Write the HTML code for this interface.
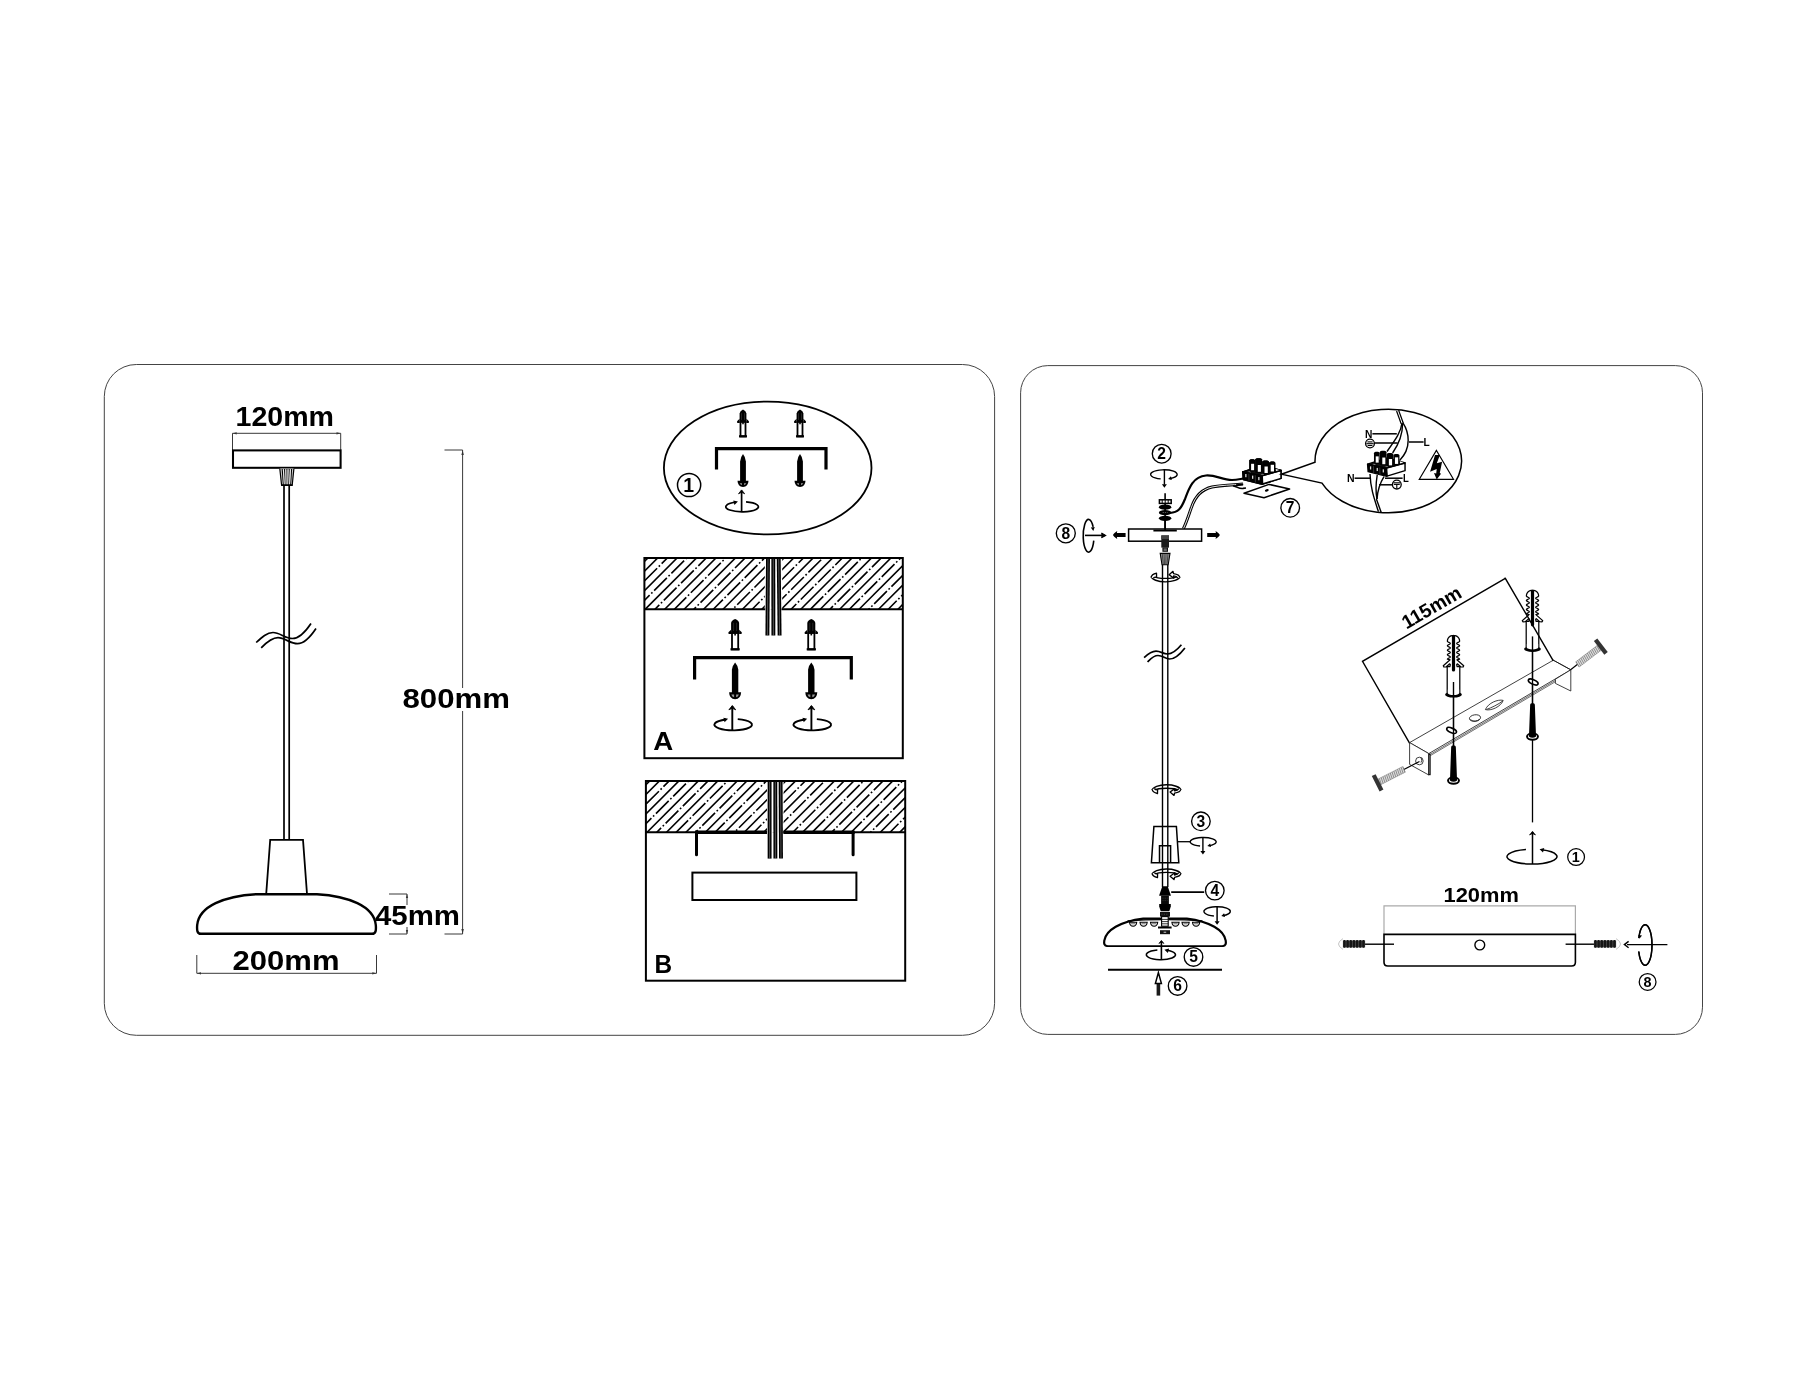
<!DOCTYPE html>
<html><head><meta charset="utf-8"><title>Diagram</title>
<style>
html,body{margin:0;padding:0;background:#fff;}
body{width:1800px;height:1400px;overflow:hidden;}
svg{display:block;filter:grayscale(100%);}
text{font-family:"Liberation Sans",sans-serif;font-weight:bold;fill:#000;}
</style></head><body>
<svg width="1800" height="1400" viewBox="0 0 1800 1400">
<rect width="1800" height="1400" fill="#fff"/>
<rect x="104.3" y="364.5" width="890.3" height="670.8" rx="32" ry="32" fill="none" stroke="#444" stroke-width="1"/>
<rect x="1020.6" y="365.6" width="681.9" height="668.8" rx="27.2" ry="27.2" fill="none" stroke="#444" stroke-width="1"/>
<text x="235.5" y="426.2" font-size="27" text-anchor="start" textLength="98.5" lengthAdjust="spacingAndGlyphs" >120mm</text>
<path d="M232.5,450 V433.3 H340.7 V450" fill="none" stroke="#222" stroke-width="0.9"/>
<polygon points="232.70,433.30 236.70,432.20 236.70,434.40" fill="#333"/>
<polygon points="340.50,433.30 336.50,434.40 336.50,432.20" fill="#333"/>
<rect x="233" y="450.4" width="107.6" height="17.4" fill="#fff" stroke="#000" stroke-width="2.05"/>
<path d="M279.8,468.6 L281.6,485.2 H292.2 L293.9,468.6" fill="#ccc" stroke="#000" stroke-width="1.2"/>
<line x1="282.2" y1="469" x2="283.4" y2="485" stroke="#000" stroke-width="1.1"/>
<line x1="284.6" y1="469" x2="285.2" y2="485" stroke="#000" stroke-width="1.1"/>
<line x1="286.9" y1="469" x2="286.9" y2="485" stroke="#000" stroke-width="1.1"/>
<line x1="289.2" y1="469" x2="288.6" y2="485" stroke="#000" stroke-width="1.1"/>
<line x1="291.6" y1="469" x2="290.6" y2="485" stroke="#000" stroke-width="1.1"/>
<line x1="283.4" y1="469.6" x2="284.3" y2="484.6" stroke="#fff" stroke-width="0.7"/>
<line x1="285.8" y1="469.6" x2="286.1" y2="484.6" stroke="#fff" stroke-width="0.7"/>
<line x1="288.1" y1="469.6" x2="287.8" y2="484.6" stroke="#fff" stroke-width="0.7"/>
<line x1="290.4" y1="469.6" x2="289.6" y2="484.6" stroke="#fff" stroke-width="0.7"/>
<line x1="281.2" y1="485.2" x2="292.6" y2="485.2" stroke="#000" stroke-width="1.6"/>
<line x1="284" y1="485" x2="284" y2="839.5" stroke="#000" stroke-width="1.7"/>
<line x1="289.2" y1="485" x2="289.2" y2="839.5" stroke="#000" stroke-width="1.7"/>
<path d="M256.2,642.5 C262,637 267,632.5 273,632.5 C280,632.5 285,638.5 292.5,638.5 C300,638.5 306,631 311,623.5" fill="none" stroke="#000" stroke-width="1.7"/>
<path d="M261.2,647.8 C267,642 272,637.7 278,637.7 C285,637.7 290,643.7 297.5,643.7 C305,643.7 311,636 316,628.5" fill="none" stroke="#000" stroke-width="1.7"/>
<path d="M270.2,839.8 H303 L307,894 H266.2 Z" fill="#fff" stroke="#000" stroke-width="1.8"/>
<path d="M201,933.8 C197,933.8 196.8,930 197.2,925 C199,906 225,896 256,894.2 H317 C348,896 374,906 375.8,925 C376.2,930 376,933.8 372,933.8 Z" fill="#fff" stroke="#000" stroke-width="2.4"/>
<path d="M444.5,450 H462.6 V688" fill="none" stroke="#222" stroke-width="0.9"/>
<polygon points="462.60,450.00 463.80,455.00 461.40,455.00" fill="#333"/>
<path d="M462.6,711 V934 H444.5" fill="none" stroke="#222" stroke-width="0.9"/>
<polygon points="462.60,934.00 461.40,929.00 463.80,929.00" fill="#333"/>
<text x="402.5" y="708.2" font-size="27" text-anchor="start" textLength="107.5" lengthAdjust="spacingAndGlyphs" >800mm</text>
<path d="M389,894 H407 V905" fill="none" stroke="#222" stroke-width="0.9"/>
<path d="M389,934 H407 V927" fill="none" stroke="#222" stroke-width="0.9"/>
<polygon points="407.00,894.00 408.10,898.00 405.90,898.00" fill="#333"/>
<polygon points="407.00,934.00 405.90,930.00 408.10,930.00" fill="#333"/>
<text x="375" y="925.2" font-size="27" text-anchor="start" textLength="85" lengthAdjust="spacingAndGlyphs" >45mm</text>
<text x="232.5" y="970" font-size="27" text-anchor="start" textLength="107" lengthAdjust="spacingAndGlyphs" >200mm</text>
<path d="M196.8,955 V973.3 H376.5 V955" fill="none" stroke="#222" stroke-width="0.9"/>
<polygon points="197.00,973.30 201.00,972.20 201.00,974.40" fill="#333"/>
<polygon points="376.30,973.30 372.30,974.40 372.30,972.20" fill="#333"/>
<ellipse cx="767.7" cy="468" rx="103.8" ry="66.4" fill="none" stroke="#000" stroke-width="1.8"/>
<path d="M739.6,422.944 V413.40000000000003 Q739.9,411.0 743,409.5 Q746.1,411.0 746.4,413.40000000000003 V422.944 Z" fill="#000"/>
<path d="M739.6,418.744 L737.05,421.144 L737.25,422.944 L739.6,422.944 Z" fill="#000"/>
<path d="M746.4,418.744 L748.95,421.144 L748.75,422.944 L746.4,422.944 Z" fill="#000"/>
<rect x="740.5" y="421.944" width="5.0" height="14.45599999999996" fill="#fff" stroke="#000" stroke-width="1.8"/>
<line x1="739.0" y1="436.29999999999995" x2="747.0" y2="436.29999999999995" stroke="#000" stroke-width="2.2"/>
<line x1="741.5" y1="413.2" x2="741.5" y2="419.944" stroke="#444" stroke-width="0.55"/>
<line x1="744.5" y1="413.2" x2="744.5" y2="419.944" stroke="#444" stroke-width="0.55"/>
<line x1="743" y1="418.944" x2="743" y2="424.344" stroke="#000" stroke-width="1.6"/>
<path d="M796.6,422.944 V413.40000000000003 Q796.9,411.0 800,409.5 Q803.1,411.0 803.4,413.40000000000003 V422.944 Z" fill="#000"/>
<path d="M796.6,418.744 L794.05,421.144 L794.25,422.944 L796.6,422.944 Z" fill="#000"/>
<path d="M803.4,418.744 L805.95,421.144 L805.75,422.944 L803.4,422.944 Z" fill="#000"/>
<rect x="797.5" y="421.944" width="5.0" height="14.45599999999996" fill="#fff" stroke="#000" stroke-width="1.8"/>
<line x1="796.0" y1="436.29999999999995" x2="804.0" y2="436.29999999999995" stroke="#000" stroke-width="2.2"/>
<line x1="798.5" y1="413.2" x2="798.5" y2="419.944" stroke="#444" stroke-width="0.55"/>
<line x1="801.5" y1="413.2" x2="801.5" y2="419.944" stroke="#444" stroke-width="0.55"/>
<line x1="800" y1="418.944" x2="800" y2="424.344" stroke="#000" stroke-width="1.6"/>
<path d="M716.5,469.6 V448.7 H826 V469.6" fill="none" stroke="#000" stroke-width="3.2" stroke-linejoin="miter"/>
<path d="M743,454.09999999999997 Q745.6,457.4 745.9,461.4 V482.1 H740.1 V461.4 Q740.4,457.4 743,454.09999999999997 Z" fill="#000"/>
<path d="M737.5,480.8 H748.5 Q748.3,486.8 743,487.0 Q737.7,486.8 737.5,480.8 Z" fill="#000"/>
<path d="M739.7,483.20000000000005 H742 V485.1 Q740.5,484.8 739.7,483.20000000000005 Z" fill="#999"/>
<path d="M746.3,483.20000000000005 H744 V485.1 Q745.5,484.8 746.3,483.20000000000005 Z" fill="#999"/>
<path d="M800,454.09999999999997 Q802.6,457.4 802.9,461.4 V482.1 H797.1 V461.4 Q797.4,457.4 800,454.09999999999997 Z" fill="#000"/>
<path d="M794.5,480.8 H805.5 Q805.3,486.8 800,487.0 Q794.7,486.8 794.5,480.8 Z" fill="#000"/>
<path d="M796.7,483.20000000000005 H799 V485.1 Q797.5,484.8 796.7,483.20000000000005 Z" fill="#999"/>
<path d="M803.3,483.20000000000005 H801 V485.1 Q802.5,484.8 803.3,483.20000000000005 Z" fill="#999"/>
<circle cx="689.1" cy="485" r="11.6" fill="none" stroke="#000" stroke-width="1.5"/>
<text x="688.6" y="491.981" font-size="19.5" text-anchor="middle">1</text>
<line x1="741.6" y1="511.8" x2="741.6" y2="490.6" stroke="#000" stroke-width="1.7"/>
<polygon points="738.5,493.8 741.6,489.90000000000003 744.7,493.8 741.6,492.3" fill="#000" stroke="#000" stroke-width="0.765" stroke-linejoin="round"/>
<path d="M746.04,501.95 A16.3,5.0 0 1 1 735.73,502.20" fill="none" stroke="#000" stroke-width="1.7"/>
<polygon points="737.93,501.60 734.47,504.91 733.28,500.46" fill="#000"/>
<clipPath id="hA"><rect x="644.4" y="558" width="258.4" height="51.200000000000045"/></clipPath>
<g clip-path="url(#hA)" stroke="#000" stroke-width="1.6" fill="none">
<line x1="576.24" y1="610.2" x2="629.44" y2="557" stroke-dasharray="18 2.3 1.7 2.4" stroke-dashoffset="4.3"/>
<line x1="585.96" y1="610.2" x2="639.16" y2="557"/>
<line x1="595.68" y1="610.2" x2="648.88" y2="557" stroke-dasharray="18 2.3 1.7 2.4" stroke-dashoffset="18.0"/>
<line x1="605.40" y1="610.2" x2="658.60" y2="557"/>
<line x1="615.12" y1="610.2" x2="668.32" y2="557" stroke-dasharray="18 2.3 1.7 2.4" stroke-dashoffset="7.4"/>
<line x1="624.84" y1="610.2" x2="678.04" y2="557"/>
<line x1="634.56" y1="610.2" x2="687.76" y2="557" stroke-dasharray="18 2.3 1.7 2.4" stroke-dashoffset="21.1"/>
<line x1="644.28" y1="610.2" x2="697.48" y2="557"/>
<line x1="654.00" y1="610.2" x2="707.20" y2="557" stroke-dasharray="18 2.3 1.7 2.4" stroke-dashoffset="10.5"/>
<line x1="663.72" y1="610.2" x2="716.92" y2="557"/>
<line x1="673.44" y1="610.2" x2="726.64" y2="557" stroke-dasharray="18 2.3 1.7 2.4" stroke-dashoffset="24.2"/>
<line x1="683.16" y1="610.2" x2="736.36" y2="557"/>
<line x1="692.88" y1="610.2" x2="746.08" y2="557" stroke-dasharray="18 2.3 1.7 2.4" stroke-dashoffset="13.6"/>
<line x1="702.60" y1="610.2" x2="755.80" y2="557"/>
<line x1="712.32" y1="610.2" x2="765.52" y2="557" stroke-dasharray="18 2.3 1.7 2.4" stroke-dashoffset="3.0"/>
<line x1="722.04" y1="610.2" x2="775.24" y2="557"/>
<line x1="731.76" y1="610.2" x2="784.96" y2="557" stroke-dasharray="18 2.3 1.7 2.4" stroke-dashoffset="16.7"/>
<line x1="741.48" y1="610.2" x2="794.68" y2="557"/>
<line x1="751.20" y1="610.2" x2="804.40" y2="557" stroke-dasharray="18 2.3 1.7 2.4" stroke-dashoffset="6.1"/>
<line x1="760.92" y1="610.2" x2="814.12" y2="557"/>
<line x1="770.64" y1="610.2" x2="823.84" y2="557" stroke-dasharray="18 2.3 1.7 2.4" stroke-dashoffset="19.8"/>
<line x1="780.36" y1="610.2" x2="833.56" y2="557"/>
<line x1="790.08" y1="610.2" x2="843.28" y2="557" stroke-dasharray="18 2.3 1.7 2.4" stroke-dashoffset="9.2"/>
<line x1="799.80" y1="610.2" x2="853.00" y2="557"/>
<line x1="809.52" y1="610.2" x2="862.72" y2="557" stroke-dasharray="18 2.3 1.7 2.4" stroke-dashoffset="22.9"/>
<line x1="819.24" y1="610.2" x2="872.44" y2="557"/>
<line x1="828.96" y1="610.2" x2="882.16" y2="557" stroke-dasharray="18 2.3 1.7 2.4" stroke-dashoffset="12.3"/>
<line x1="838.68" y1="610.2" x2="891.88" y2="557"/>
<line x1="848.40" y1="610.2" x2="901.60" y2="557" stroke-dasharray="18 2.3 1.7 2.4" stroke-dashoffset="1.6"/>
<line x1="858.12" y1="610.2" x2="911.32" y2="557"/>
<line x1="867.84" y1="610.2" x2="921.04" y2="557" stroke-dasharray="18 2.3 1.7 2.4" stroke-dashoffset="15.4"/>
<line x1="877.56" y1="610.2" x2="930.76" y2="557"/>
<line x1="887.28" y1="610.2" x2="940.48" y2="557" stroke-dasharray="18 2.3 1.7 2.4" stroke-dashoffset="4.7"/>
<line x1="897.00" y1="610.2" x2="950.20" y2="557"/>
<line x1="906.72" y1="610.2" x2="959.92" y2="557" stroke-dasharray="18 2.3 1.7 2.4" stroke-dashoffset="18.5"/>
</g>
<rect x="764.8" y="558" width="17.400000000000045" height="51.200000000000045" fill="#fff"/>
<line x1="768" y1="558" x2="767.4" y2="635.6" stroke="#000" stroke-width="3.9"/>
<line x1="768" y1="558" x2="767.4" y2="635.6" stroke="#999" stroke-width="0.55"/>
<line x1="773.3" y1="558" x2="773.4" y2="635.6" stroke="#000" stroke-width="3.9"/>
<line x1="773.3" y1="558" x2="773.4" y2="635.6" stroke="#999" stroke-width="0.55"/>
<line x1="778.7" y1="558" x2="779.6" y2="635.6" stroke="#000" stroke-width="3.9"/>
<line x1="778.7" y1="558" x2="779.6" y2="635.6" stroke="#999" stroke-width="0.55"/>
<rect x="644.4" y="558" width="258.4" height="200.2" fill="none" stroke="#000" stroke-width="2"/>
<line x1="644.4" y1="609.2" x2="765.2" y2="609.2" stroke="#000" stroke-width="2"/>
<line x1="781.6" y1="609.2" x2="902.8" y2="609.2" stroke="#000" stroke-width="2"/>
<path d="M731.1,634.04 V623.0 Q731.4,620.6 735.1,619.1 Q738.8000000000001,620.6 739.1,623.0 V634.04 Z" fill="#000"/>
<path d="M731.1,629.8399999999999 L728.4,632.24 L728.6,634.04 L731.1,634.04 Z" fill="#000"/>
<path d="M739.1,629.8399999999999 L741.8000000000001,632.24 L741.6,634.04 L739.1,634.04 Z" fill="#000"/>
<rect x="732.0" y="633.04" width="6.2" height="16.360000000000014" fill="#fff" stroke="#000" stroke-width="1.8"/>
<line x1="730.5" y1="649.3" x2="739.7" y2="649.3" stroke="#000" stroke-width="2.2"/>
<line x1="733.6" y1="622.8" x2="733.6" y2="631.04" stroke="#444" stroke-width="0.55"/>
<line x1="736.6" y1="622.8" x2="736.6" y2="631.04" stroke="#444" stroke-width="0.55"/>
<line x1="735.1" y1="630.04" x2="735.1" y2="635.4399999999999" stroke="#000" stroke-width="1.6"/>
<path d="M807.3,634.04 V623.0 Q807.5999999999999,620.6 811.3,619.1 Q815.0,620.6 815.3,623.0 V634.04 Z" fill="#000"/>
<path d="M807.3,629.8399999999999 L804.5999999999999,632.24 L804.8,634.04 L807.3,634.04 Z" fill="#000"/>
<path d="M815.3,629.8399999999999 L818.0,632.24 L817.8,634.04 L815.3,634.04 Z" fill="#000"/>
<rect x="808.1999999999999" y="633.04" width="6.2" height="16.360000000000014" fill="#fff" stroke="#000" stroke-width="1.8"/>
<line x1="806.6999999999999" y1="649.3" x2="815.9" y2="649.3" stroke="#000" stroke-width="2.2"/>
<line x1="809.8" y1="622.8" x2="809.8" y2="631.04" stroke="#444" stroke-width="0.55"/>
<line x1="812.8" y1="622.8" x2="812.8" y2="631.04" stroke="#444" stroke-width="0.55"/>
<line x1="811.3" y1="630.04" x2="811.3" y2="635.4399999999999" stroke="#000" stroke-width="1.6"/>
<path d="M694.6,679.6 V657.6 H851.3 V679.6" fill="none" stroke="#000" stroke-width="3.2" stroke-linejoin="miter"/>
<path d="M735.1,662.5 Q738.0000000000001,665.8 738.3000000000001,669.8 V693.5 H731.9 V669.8 Q732.1999999999999,665.8 735.1,662.5 Z" fill="#000"/>
<path d="M729.1,692.2 H741.1 Q740.9,699.0 735.1,699.1999999999999 Q729.3000000000001,699.0 729.1,692.2 Z" fill="#000"/>
<path d="M731.3000000000001,694.6 H734.1 V697.3 Q732.1,697.0 731.3000000000001,694.6 Z" fill="#999"/>
<path d="M738.9,694.6 H736.1 V697.3 Q738.1,697.0 738.9,694.6 Z" fill="#999"/>
<path d="M811.3,662.5 Q814.2,665.8 814.5,669.8 V693.5 H808.0999999999999 V669.8 Q808.3999999999999,665.8 811.3,662.5 Z" fill="#000"/>
<path d="M805.3,692.2 H817.3 Q817.0999999999999,699.0 811.3,699.1999999999999 Q805.5,699.0 805.3,692.2 Z" fill="#000"/>
<path d="M807.5,694.6 H810.3 V697.3 Q808.3,697.0 807.5,694.6 Z" fill="#999"/>
<path d="M815.0999999999999,694.6 H812.3 V697.3 Q814.3,697.0 815.0999999999999,694.6 Z" fill="#999"/>
<line x1="732.3" y1="730.4000000000001" x2="732.3" y2="706.2" stroke="#000" stroke-width="1.9"/>
<polygon points="728.9,709.8000000000001 732.3,705.5 735.6999999999999,709.8000000000001 732.3,708.3000000000001" fill="#000" stroke="#000" stroke-width="0.855" stroke-linejoin="round"/>
<path d="M737.75,719.17 A18.8,5.7 0 1 1 725.85,719.45" fill="none" stroke="#000" stroke-width="1.9"/>
<polygon points="728.05,718.85 724.59,722.16 723.40,717.72" fill="#000"/>
<line x1="811.4" y1="730.4000000000001" x2="811.4" y2="706.2" stroke="#000" stroke-width="1.9"/>
<polygon points="808.0,709.8000000000001 811.4,705.5 814.8,709.8000000000001 811.4,708.3000000000001" fill="#000" stroke="#000" stroke-width="0.855" stroke-linejoin="round"/>
<path d="M816.85,719.17 A18.8,5.7 0 1 1 804.95,719.45" fill="none" stroke="#000" stroke-width="1.9"/>
<polygon points="807.15,718.85 803.69,722.16 802.50,717.72" fill="#000"/>
<text x="653.2" y="749.6" font-size="26" text-anchor="start" textLength="20" lengthAdjust="spacingAndGlyphs" >A</text>
<clipPath id="hB"><rect x="645.9" y="781" width="259.30000000000007" height="51.200000000000045"/></clipPath>
<g clip-path="url(#hB)" stroke="#000" stroke-width="1.6" fill="none">
<line x1="578.04" y1="833.2" x2="631.24" y2="780" stroke-dasharray="18 2.3 1.7 2.4" stroke-dashoffset="4.3"/>
<line x1="587.76" y1="833.2" x2="640.96" y2="780"/>
<line x1="597.48" y1="833.2" x2="650.68" y2="780" stroke-dasharray="18 2.3 1.7 2.4" stroke-dashoffset="18.0"/>
<line x1="607.20" y1="833.2" x2="660.40" y2="780"/>
<line x1="616.92" y1="833.2" x2="670.12" y2="780" stroke-dasharray="18 2.3 1.7 2.4" stroke-dashoffset="7.4"/>
<line x1="626.64" y1="833.2" x2="679.84" y2="780"/>
<line x1="636.36" y1="833.2" x2="689.56" y2="780" stroke-dasharray="18 2.3 1.7 2.4" stroke-dashoffset="21.1"/>
<line x1="646.08" y1="833.2" x2="699.28" y2="780"/>
<line x1="655.80" y1="833.2" x2="709.00" y2="780" stroke-dasharray="18 2.3 1.7 2.4" stroke-dashoffset="10.5"/>
<line x1="665.52" y1="833.2" x2="718.72" y2="780"/>
<line x1="675.24" y1="833.2" x2="728.44" y2="780" stroke-dasharray="18 2.3 1.7 2.4" stroke-dashoffset="24.2"/>
<line x1="684.96" y1="833.2" x2="738.16" y2="780"/>
<line x1="694.68" y1="833.2" x2="747.88" y2="780" stroke-dasharray="18 2.3 1.7 2.4" stroke-dashoffset="13.6"/>
<line x1="704.40" y1="833.2" x2="757.60" y2="780"/>
<line x1="714.12" y1="833.2" x2="767.32" y2="780" stroke-dasharray="18 2.3 1.7 2.4" stroke-dashoffset="3.0"/>
<line x1="723.84" y1="833.2" x2="777.04" y2="780"/>
<line x1="733.56" y1="833.2" x2="786.76" y2="780" stroke-dasharray="18 2.3 1.7 2.4" stroke-dashoffset="16.7"/>
<line x1="743.28" y1="833.2" x2="796.48" y2="780"/>
<line x1="753.00" y1="833.2" x2="806.20" y2="780" stroke-dasharray="18 2.3 1.7 2.4" stroke-dashoffset="6.1"/>
<line x1="762.72" y1="833.2" x2="815.92" y2="780"/>
<line x1="772.44" y1="833.2" x2="825.64" y2="780" stroke-dasharray="18 2.3 1.7 2.4" stroke-dashoffset="19.8"/>
<line x1="782.16" y1="833.2" x2="835.36" y2="780"/>
<line x1="791.88" y1="833.2" x2="845.08" y2="780" stroke-dasharray="18 2.3 1.7 2.4" stroke-dashoffset="9.2"/>
<line x1="801.60" y1="833.2" x2="854.80" y2="780"/>
<line x1="811.32" y1="833.2" x2="864.52" y2="780" stroke-dasharray="18 2.3 1.7 2.4" stroke-dashoffset="22.9"/>
<line x1="821.04" y1="833.2" x2="874.24" y2="780"/>
<line x1="830.76" y1="833.2" x2="883.96" y2="780" stroke-dasharray="18 2.3 1.7 2.4" stroke-dashoffset="12.3"/>
<line x1="840.48" y1="833.2" x2="893.68" y2="780"/>
<line x1="850.20" y1="833.2" x2="903.40" y2="780" stroke-dasharray="18 2.3 1.7 2.4" stroke-dashoffset="1.6"/>
<line x1="859.92" y1="833.2" x2="913.12" y2="780"/>
<line x1="869.64" y1="833.2" x2="922.84" y2="780" stroke-dasharray="18 2.3 1.7 2.4" stroke-dashoffset="15.4"/>
<line x1="879.36" y1="833.2" x2="932.56" y2="780"/>
<line x1="889.08" y1="833.2" x2="942.28" y2="780" stroke-dasharray="18 2.3 1.7 2.4" stroke-dashoffset="4.7"/>
<line x1="898.80" y1="833.2" x2="952.00" y2="780"/>
<line x1="908.52" y1="833.2" x2="961.72" y2="780" stroke-dasharray="18 2.3 1.7 2.4" stroke-dashoffset="18.5"/>
</g>
<rect x="767.0" y="781" width="16.599999999999977" height="51.200000000000045" fill="#fff"/>
<line x1="769.6" y1="781" x2="769.6" y2="858.6" stroke="#000" stroke-width="3.9"/>
<line x1="769.6" y1="781" x2="769.6" y2="858.6" stroke="#999" stroke-width="0.55"/>
<line x1="775.3" y1="781" x2="775.4" y2="858.6" stroke="#000" stroke-width="3.9"/>
<line x1="775.3" y1="781" x2="775.4" y2="858.6" stroke="#999" stroke-width="0.55"/>
<line x1="780.6" y1="781" x2="781" y2="858.6" stroke="#000" stroke-width="3.9"/>
<line x1="780.6" y1="781" x2="781" y2="858.6" stroke="#999" stroke-width="0.55"/>
<rect x="645.9" y="781" width="259.3" height="199.7" fill="none" stroke="#000" stroke-width="2"/>
<line x1="645.9" y1="832.2" x2="767" y2="832.2" stroke="#000" stroke-width="2"/>
<line x1="783.4" y1="832.2" x2="905.2" y2="832.2" stroke="#000" stroke-width="2"/>
<line x1="695" y1="832.2" x2="767" y2="832.2" stroke="#000" stroke-width="3.4"/>
<line x1="783.4" y1="832.2" x2="854.6" y2="832.2" stroke="#000" stroke-width="3.4"/>
<line x1="696.5" y1="832" x2="696.5" y2="854.8" stroke="#000" stroke-width="3" stroke-linecap="round"/>
<line x1="853.1" y1="832" x2="853.1" y2="854.8" stroke="#000" stroke-width="3" stroke-linecap="round"/>
<rect x="692.4" y="872.6" width="164" height="27.4" fill="#fff" stroke="#000" stroke-width="2"/>
<text x="654.6" y="972.7" font-size="26" text-anchor="start" textLength="17.6" lengthAdjust="spacingAndGlyphs" >B</text>
<circle cx="1161.7" cy="453.7" r="9.4" fill="none" stroke="#000" stroke-width="1.35"/>
<text x="1161.7" y="459.28479999999996" font-size="15.6" text-anchor="middle">2</text>
<line x1="1164.4" y1="469.79999999999995" x2="1164.4" y2="484.7" stroke="#000" stroke-width="1.4"/>
<polygon points="1164.40,487.80 1161.90,484.20 1166.90,484.20" fill="#000"/>
<path d="M1160.68,478.86 A13.3,4.6 0 1 1 1170.14,478.46" fill="none" stroke="#000" stroke-width="1.4"/>
<polygon points="1168.14,478.96 1170.94,476.25 1171.92,479.92" fill="#000"/>
<line x1="1165.1" y1="493.2" x2="1165.1" y2="529" stroke="#000" stroke-width="1.6"/>
<rect x="1159.4" y="499.8" width="11.8" height="3.6" fill="#fff" stroke="#000" stroke-width="1.5"/>
<line x1="1162.2" y1="499.8" x2="1162.2" y2="503.4" stroke="#000" stroke-width="1"/>
<line x1="1165.2" y1="499.8" x2="1165.2" y2="503.4" stroke="#000" stroke-width="1"/>
<line x1="1168.2" y1="499.8" x2="1168.2" y2="503.4" stroke="#000" stroke-width="1"/>
<ellipse cx="1165.1" cy="507.2" rx="6.2" ry="2.65" fill="#000"/>
<ellipse cx="1165.1" cy="512.7" rx="6.2" ry="2.65" fill="#000"/>
<ellipse cx="1165.1" cy="518.3" rx="6.2" ry="2.65" fill="#000"/>
<line x1="1162.6" y1="512.5" x2="1167.6" y2="512.5" stroke="#aaa" stroke-width="0.5" stroke-dasharray="1.4 0.8"/>
<path d="M1170,513 C1178,512.5 1181,509 1185,499 C1189,488 1193,476.5 1206,475.5 C1216,474.8 1222,480 1232,480 C1237,480 1240,479 1243,478.5" fill="none" stroke="#000" stroke-width="2.2" stroke-linecap="round"/>
<path d="M1183.4,528.7 C1187,521 1189,514 1191.6,507 C1195,497 1201,489.5 1212,487 C1221,485 1231,485.2 1243,484" fill="none" stroke="#000" stroke-width="3"/>
<path d="M1183.4,528.7 C1187,521 1189,514 1191.6,507 C1195,497 1201,489.5 1212,487 C1221,485 1231,485.2 1243,484" fill="none" stroke="#fff" stroke-width="0.9"/>
<path d="M1233,485.8 L1238,487.6 Q1240,488.6 1243,488.4 L1246,488" fill="none" stroke="#000" stroke-width="1.6"/>
<path d="M1236,485 L1243.2,484.2" fill="none" stroke="#000" stroke-width="1.6"/>
<rect x="1128.6" y="529" width="73" height="12.2" fill="#fff" stroke="#000" stroke-width="1.5"/>
<line x1="1153.4" y1="530.6" x2="1176.8" y2="530.6" stroke="#000" stroke-width="1.8"/>
<line x1="1165.1" y1="519" x2="1165.1" y2="530" stroke="#000" stroke-width="1.6"/>
<rect x="1161.3" y="535.4" width="7.7" height="12.2" fill="#1c1c1c"/>
<rect x="1162.4" y="547.4" width="5.6" height="4.4" fill="#111"/>
<rect x="1161.3" y="535.4" width="7.7" height="3.6" fill="#444"/>
<rect x="1163.6" y="548.4" width="3.2" height="2.6" fill="#666"/>
<path d="M1160.2,553.4 H1170 L1168.2,564.8 H1162 Z" fill="#999" stroke="#000" stroke-width="1.1"/>
<line x1="1162.2" y1="553.4" x2="1163.3" y2="564.8" stroke="#222" stroke-width="0.7"/>
<line x1="1164" y1="553.4" x2="1164.5" y2="564.8" stroke="#222" stroke-width="0.7"/>
<line x1="1166" y1="553.4" x2="1165.8" y2="564.8" stroke="#222" stroke-width="0.7"/>
<line x1="1168" y1="553.4" x2="1167" y2="564.8" stroke="#222" stroke-width="0.7"/>
<line x1="1162.5" y1="564.8" x2="1162.5" y2="887" stroke="#000" stroke-width="1.4"/>
<line x1="1167.8" y1="564.8" x2="1167.8" y2="887" stroke="#000" stroke-width="1.4"/>
<path d="M1151.18,576.49 A14.4,5.8 0 0 0 1179.86,576.70" fill="none" stroke="#000" stroke-width="1.45"/>
<path d="M1153.68,576.27 A12.3,3.0 0 0 0 1177.32,576.27" fill="none" stroke="#000" stroke-width="1.3"/>
<path d="M1151.20,577.50 C1151.40,575.10 1153.50,573.90 1156.50,573.20 L1156.60,576.80 C1155.10,576.90 1153.90,577.40 1153.30,578.20" fill="#fff" stroke="#000" stroke-width="1.3" stroke-linejoin="round"/>
<path d="M1179.80,577.50 C1179.60,575.30 1176.90,574.10 1173.50,573.60 L1173.00,571.30 L1169.10,574.70 L1173.80,578.10 L1173.60,575.90 C1175.50,576.00 1177.10,576.80 1177.80,578.10" fill="#fff" stroke="#000" stroke-width="1.3" stroke-linejoin="round"/>
<path d="M1144.1,657.7 C1148,654 1151.5,651.2 1156,651.2 C1161,651.2 1163,654 1167.5,654 C1173,654 1177.5,649.5 1181.4,644.8" fill="none" stroke="#000" stroke-width="1.7"/>
<path d="M1147.6,662 C1151,658.5 1153.5,655.5 1158,655.5 C1163,655.5 1165,659 1169.5,659 C1176,659 1181,653 1184.9,647.9" fill="none" stroke="#000" stroke-width="1.7"/>
<path d="M1113,535 Q1113.4,533.6 1117.2,531.1 L1116.9,533.1 H1125.6 V536.9 H1116.9 L1117.2,538.9 Q1113.4,536.4 1113,535 Z" fill="#000"/>
<path d="M1219.8,535 Q1219.4,533.6 1215.6,531.1 L1215.9,533.1 H1207.2 V536.9 H1215.9 L1215.6,538.9 Q1219.4,536.4 1219.8,535 Z" fill="#000"/>
<circle cx="1065.8" cy="533.3" r="9.5" fill="none" stroke="#000" stroke-width="1.35"/>
<text x="1065.8" y="538.8847999999999" font-size="15.6" text-anchor="middle">8</text>
<path d="M1093.76,540.59 A5.4,16.4 0 1 1 1093.13,526.87" fill="none" stroke="#000" stroke-width="1.6"/>
<polygon points="1093.30,531.00 1090.79,527.52 1094.75,526.96" fill="#000"/>
<line x1="1085" y1="535.4" x2="1104.6" y2="535.4" stroke="#000" stroke-width="1.6"/>
<polyline points="1101.4,533 1105.6,535.4 1101.4,537.8" fill="#000" stroke="#000" stroke-width="1.2" stroke-linejoin="miter"/>
<polygon points="1262.20,475.70 1281.00,470.50 1281.00,478.40 1262.60,484.00" fill="#fff" stroke="#000" stroke-width="1.5" stroke-linejoin="round"/>
<polygon points="1242.80,471.80 1262.80,465.40 1281.20,470.40 1261.40,475.80" fill="#111" stroke="#000" stroke-width="1.4" stroke-linejoin="round"/>
<polygon points="1275.60,468.90 1279.40,470.10 1276.00,471.10" fill="#fff"/>
<polygon points="1247.40,472.00 1249.80,471.20 1251.20,472.70" fill="#999"/>
<polygon points="1260.20,474.60 1263.20,473.60 1264.00,474.70" fill="#999"/>
<polygon points="1242.80,471.80 1261.40,475.80 1262.40,484.20 1243.40,479.40" fill="#000" stroke="#000" stroke-width="1.5" stroke-linejoin="round"/>
<rect x="1245.20" y="474.00" width="1.30" height="3.20" fill="#ddd"/>
<rect x="1252.00" y="475.60" width="1.30" height="3.20" fill="#ddd"/>
<rect x="1258.20" y="477.00" width="1.30" height="3.20" fill="#ddd"/>
<line x1="1248.80" y1="473.80" x2="1249.00" y2="480.80" stroke="#555" stroke-width="0.6"/>
<line x1="1255.20" y1="475.20" x2="1255.40" y2="482.40" stroke="#555" stroke-width="0.6"/>
<path d="M1249.30,460.60 C1249.50,458.70 1254.90,458.70 1255.10,460.60 V471.00 Q1252.20,472.60 1249.30,471.00 Z" fill="#000"/>
<rect x="1251.10" y="463.80" width="3.00" height="6.40" fill="#fff"/>
<path d="M1255.20,459.60 C1255.40,457.70 1261.90,457.70 1262.10,459.60 V472.40 Q1258.65,474.00 1255.20,472.40 Z" fill="#000"/>
<rect x="1257.80" y="465.00" width="3.10" height="6.80" fill="#fff"/>
<path d="M1262.20,461.80 C1262.40,459.90 1268.80,459.90 1269.00,461.80 V473.60 Q1265.60,475.20 1262.20,473.60 Z" fill="#000"/>
<rect x="1264.50" y="466.50" width="3.30" height="6.50" fill="#fff"/>
<path d="M1269.10,462.90 C1269.30,461.00 1275.10,461.00 1275.30,462.90 V472.40 Q1272.20,474.00 1269.10,472.40 Z" fill="#000"/>
<rect x="1270.70" y="464.80" width="3.30" height="6.70" fill="#fff"/>
<polygon points="1244,493.2 1264,497.7 1289.6,489 1269,484.4" fill="#fff" stroke="#000" stroke-width="1.5" stroke-linejoin="round"/>
<ellipse cx="1266.8" cy="490.4" rx="2" ry="1.2" fill="#000" transform="rotate(-18 1266.8 490.4)"/>
<circle cx="1290.2" cy="507.8" r="9.3" fill="none" stroke="#000" stroke-width="1.35"/>
<text x="1290.2" y="513.3848" font-size="15.6" text-anchor="middle">7</text>
<polygon points="1262.20,475.70 1281.00,470.50 1281.00,478.40 1262.60,484.00" fill="#fff" stroke="#000" stroke-width="1.5" stroke-linejoin="round"/>
<polygon points="1242.80,471.80 1262.80,465.40 1281.20,470.40 1261.40,475.80" fill="#111" stroke="#000" stroke-width="1.4" stroke-linejoin="round"/>
<polygon points="1275.60,468.90 1279.40,470.10 1276.00,471.10" fill="#fff"/>
<polygon points="1247.40,472.00 1249.80,471.20 1251.20,472.70" fill="#999"/>
<polygon points="1260.20,474.60 1263.20,473.60 1264.00,474.70" fill="#999"/>
<polygon points="1242.80,471.80 1261.40,475.80 1262.40,484.20 1243.40,479.40" fill="#000" stroke="#000" stroke-width="1.5" stroke-linejoin="round"/>
<rect x="1245.20" y="474.00" width="1.30" height="3.20" fill="#ddd"/>
<rect x="1252.00" y="475.60" width="1.30" height="3.20" fill="#ddd"/>
<rect x="1258.20" y="477.00" width="1.30" height="3.20" fill="#ddd"/>
<line x1="1248.80" y1="473.80" x2="1249.00" y2="480.80" stroke="#555" stroke-width="0.6"/>
<line x1="1255.20" y1="475.20" x2="1255.40" y2="482.40" stroke="#555" stroke-width="0.6"/>
<path d="M1249.30,460.60 C1249.50,458.70 1254.90,458.70 1255.10,460.60 V471.00 Q1252.20,472.60 1249.30,471.00 Z" fill="#000"/>
<rect x="1251.10" y="463.80" width="3.00" height="6.40" fill="#fff"/>
<path d="M1255.20,459.60 C1255.40,457.70 1261.90,457.70 1262.10,459.60 V472.40 Q1258.65,474.00 1255.20,472.40 Z" fill="#000"/>
<rect x="1257.80" y="465.00" width="3.10" height="6.80" fill="#fff"/>
<path d="M1262.20,461.80 C1262.40,459.90 1268.80,459.90 1269.00,461.80 V473.60 Q1265.60,475.20 1262.20,473.60 Z" fill="#000"/>
<rect x="1264.50" y="466.50" width="3.30" height="6.50" fill="#fff"/>
<path d="M1269.10,462.90 C1269.30,461.00 1275.10,461.00 1275.30,462.90 V472.40 Q1272.20,474.00 1269.10,472.40 Z" fill="#000"/>
<rect x="1270.70" y="464.80" width="3.30" height="6.70" fill="#fff"/>
<path d="M1281.3,474.2 L1315.02,462.30 " fill="none"/>
<path d="M1281.3,474.2 L1315.02,462.30 A73.3,51.8 0 1 1 1321.99,483.07 Z" fill="#fff" stroke="#000" stroke-width="1.5" stroke-linejoin="miter"/>
<path d="M1397.6,410.6 L1402.2,423.4" fill="none" stroke="#000" stroke-width="3.4"/>
<path d="M1397.6,410.6 L1402.2,423.4" fill="none" stroke="#fff" stroke-width="1"/>
<path d="M1402,423 C1401,432 1396,439 1387,451.5" fill="none" stroke="#000" stroke-width="1.4"/>
<path d="M1402.6,423.6 C1402.6,434 1399,444 1392.6,453" fill="none" stroke="#000" stroke-width="1.4"/>
<path d="M1402.8,422.6 C1409,432 1412,448 1399.6,460.4" fill="none" stroke="#000" stroke-width="1.4"/>
<text x="1365" y="437.6" font-size="11.2" text-anchor="start" textLength="7.4" lengthAdjust="spacingAndGlyphs" >N</text>
<line x1="1372.4" y1="433.8" x2="1396.8" y2="433.8" stroke="#000" stroke-width="1.5"/>
<line x1="1374.4" y1="443" x2="1397.6" y2="443" stroke="#000" stroke-width="1.5"/>
<circle cx="1370" cy="443.5" r="4.4" fill="#fff" stroke="#000" stroke-width="1.3"/>
<line x1="1367.4" y1="441.9" x2="1372.6" y2="441.9" stroke="#000" stroke-width="1.1"/>
<line x1="1366.4" y1="443.7" x2="1373.6" y2="443.7" stroke="#000" stroke-width="1.1"/>
<line x1="1367.6" y1="445.5" x2="1372.4" y2="445.5" stroke="#000" stroke-width="1.1"/>
<line x1="1409" y1="442" x2="1423.6" y2="442" stroke="#000" stroke-width="1.5"/>
<text x="1423.6" y="445.8" font-size="11.2" text-anchor="start" textLength="6.2" lengthAdjust="spacingAndGlyphs" >L</text>
<path d="M1370,474 C1370.5,488 1374,498 1378.4,511.6" fill="none" stroke="#000" stroke-width="1.4"/>
<path d="M1377.2,475 C1375.6,485 1375.6,492 1377,499" fill="none" stroke="#000" stroke-width="1.4"/>
<path d="M1384,476.6 C1380,483 1377.6,490 1377,499" fill="none" stroke="#000" stroke-width="1.4"/>
<path d="M1376.4,499 L1381.2,512.4" fill="none" stroke="#000" stroke-width="1.4"/>
<line x1="1354.6" y1="478.2" x2="1370" y2="478.2" stroke="#000" stroke-width="1.5"/>
<text x="1347" y="482" font-size="11.2" text-anchor="start" textLength="7.6" lengthAdjust="spacingAndGlyphs" >N</text>
<line x1="1385" y1="478.2" x2="1402.6" y2="478.2" stroke="#000" stroke-width="1.5"/>
<text x="1403" y="482" font-size="11.2" text-anchor="start" textLength="5.8" lengthAdjust="spacingAndGlyphs" >L</text>
<line x1="1379" y1="484.8" x2="1392.6" y2="484.8" stroke="#000" stroke-width="1.5"/>
<circle cx="1396.8" cy="484.6" r="4.4" fill="#fff" stroke="#000" stroke-width="1.3"/>
<line x1="1393.2" y1="482.8" x2="1400.3999999999999" y2="482.8" stroke="#000" stroke-width="1.1"/>
<line x1="1393.8" y1="484.40000000000003" x2="1399.8" y2="484.40000000000003" stroke="#000" stroke-width="1.1"/>
<line x1="1396.8" y1="484.40000000000003" x2="1396.8" y2="488.6" stroke="#000" stroke-width="1.1"/>
<polygon points="1386.61,468.02 1405.04,462.93 1405.04,470.67 1387.00,476.16" fill="#fff" stroke="#000" stroke-width="1.47" stroke-linejoin="round"/>
<polygon points="1367.60,464.20 1387.20,457.93 1405.23,462.83 1385.83,468.12" fill="#111" stroke="#000" stroke-width="1.3719999999999999" stroke-linejoin="round"/>
<polygon points="1399.74,461.36 1403.47,462.53 1400.14,463.51" fill="#fff"/>
<polygon points="1372.11,464.40 1374.46,463.61 1375.83,465.08" fill="#999"/>
<polygon points="1384.65,466.94 1387.59,465.96 1388.38,467.04" fill="#999"/>
<polygon points="1367.60,464.20 1385.83,468.12 1386.81,476.35 1368.19,471.65" fill="#000" stroke="#000" stroke-width="1.47" stroke-linejoin="round"/>
<rect x="1369.95" y="466.36" width="1.27" height="3.14" fill="#ddd"/>
<rect x="1376.62" y="467.92" width="1.27" height="3.14" fill="#ddd"/>
<rect x="1382.69" y="469.30" width="1.27" height="3.14" fill="#ddd"/>
<line x1="1373.48" y1="466.16" x2="1373.68" y2="473.02" stroke="#555" stroke-width="0.588"/>
<line x1="1379.75" y1="467.53" x2="1379.95" y2="474.59" stroke="#555" stroke-width="0.588"/>
<path d="M1373.97,453.22 C1374.17,451.36 1379.46,451.36 1379.65,453.22 V463.42 Q1376.81,464.98 1373.97,463.42 Z" fill="#000"/>
<rect x="1375.73" y="456.36" width="2.94" height="6.27" fill="#fff"/>
<path d="M1379.75,452.24 C1379.95,450.38 1386.32,450.38 1386.51,452.24 V464.79 Q1383.13,466.36 1379.75,464.79 Z" fill="#000"/>
<rect x="1382.30" y="457.54" width="3.04" height="6.66" fill="#fff"/>
<path d="M1386.61,454.40 C1386.81,452.54 1393.08,452.54 1393.28,454.40 V465.96 Q1389.94,467.53 1386.61,465.96 Z" fill="#000"/>
<rect x="1388.87" y="459.01" width="3.23" height="6.37" fill="#fff"/>
<path d="M1393.37,455.48 C1393.57,453.62 1399.25,453.62 1399.45,455.48 V464.79 Q1396.41,466.36 1393.37,464.79 Z" fill="#000"/>
<rect x="1394.94" y="457.34" width="3.23" height="6.57" fill="#fff"/>
<polygon points="1436.4,450.4 1419.2,479.4 1453.6,479.4" fill="#fff" stroke="#000" stroke-width="1.1"/>
<polygon points="1435,455 1439.9,455 1436.8,463.2 1442.1,461.8 1439.8,473 1441,473.8 1436.7,479.4 1434,473 1436.2,473.6 1436.7,469 1430.1,471.8" fill="#000"/>
<path d="M1152.18,790.21 A14.4,5.8 0 0 1 1180.86,790.00" fill="none" stroke="#000" stroke-width="1.45"/>
<path d="M1154.68,790.43 A12.3,3.0 0 0 1 1178.32,790.43" fill="none" stroke="#000" stroke-width="1.3"/>
<path d="M1152.20,789.20 C1152.40,791.60 1154.50,792.80 1157.50,793.50 L1157.60,789.90 C1156.10,789.80 1154.90,789.30 1154.30,788.50" fill="#fff" stroke="#000" stroke-width="1.3" stroke-linejoin="round"/>
<path d="M1180.80,789.20 C1180.60,791.40 1177.90,792.60 1174.50,793.10 L1174.00,795.40 L1170.10,792.00 L1174.80,788.60 L1174.60,790.80 C1176.50,790.70 1178.10,789.90 1178.80,788.60" fill="#fff" stroke="#000" stroke-width="1.3" stroke-linejoin="round"/>
<circle cx="1200.9" cy="821.3" r="9.3" fill="none" stroke="#000" stroke-width="1.35"/>
<text x="1200.9" y="826.8847999999999" font-size="15.6" text-anchor="middle">3</text>
<path d="M1153.9,826.5 H1176.4 L1178.8,862.7 H1151.4 Z" fill="none" stroke="#000" stroke-width="1.5"/>
<path d="M1159.5,862.7 V845.8 H1170.6 V862.7" fill="none" stroke="#000" stroke-width="1.5"/>
<line x1="1177.8" y1="841.7" x2="1190" y2="841.7" stroke="#000" stroke-width="1.3"/>
<line x1="1202.9" y1="837.5" x2="1202.9" y2="851.5" stroke="#000" stroke-width="1.4"/>
<polygon points="1202.90,854.60 1200.40,851.00 1205.40,851.00" fill="#000"/>
<path d="M1200.06,845.97 A13,4.3 0 1 1 1209.30,845.60" fill="none" stroke="#000" stroke-width="1.4"/>
<polygon points="1207.30,846.10 1210.10,843.38 1211.08,847.05" fill="#000"/>
<path d="M1152.18,874.41 A14.4,5.8 0 0 1 1180.86,874.20" fill="none" stroke="#000" stroke-width="1.45"/>
<path d="M1154.68,874.63 A12.3,3.0 0 0 1 1178.32,874.63" fill="none" stroke="#000" stroke-width="1.3"/>
<path d="M1152.20,873.40 C1152.40,875.80 1154.50,877.00 1157.50,877.70 L1157.60,874.10 C1156.10,874.00 1154.90,873.50 1154.30,872.70" fill="#fff" stroke="#000" stroke-width="1.3" stroke-linejoin="round"/>
<path d="M1180.80,873.40 C1180.60,875.60 1177.90,876.80 1174.50,877.30 L1174.00,879.60 L1170.10,876.20 L1174.80,872.80 L1174.60,875.00 C1176.50,874.90 1178.10,874.10 1178.80,872.80" fill="#fff" stroke="#000" stroke-width="1.3" stroke-linejoin="round"/>
<path d="M1162.3,886.2 H1167.7 L1170.2,893.4 L1170.9,895.8 H1159.1 L1159.8,893.4 Z" fill="#000"/>
<rect x="1161.1" y="895.6" width="7.8" height="8.6" fill="#0a0a0a"/>
<line x1="1162.4" y1="898.2" x2="1167.6" y2="898.2" stroke="#555" stroke-width="0.5" stroke-dasharray="1.2 1"/>
<line x1="1162.4" y1="900.6" x2="1167.6" y2="900.6" stroke="#555" stroke-width="0.5" stroke-dasharray="1.2 1"/>
<path d="M1159.2,904 H1170.8 V906.4 L1169.3,911.2 H1160.7 L1159.2,906.4 Z" fill="#000"/>
<rect x="1160" y="912" width="10" height="4.6" fill="#111"/>
<line x1="1161.4" y1="914.2" x2="1168.6" y2="914.2" stroke="#777" stroke-width="0.5" stroke-dasharray="1.2 1.2"/>
<line x1="1171.2" y1="892.1" x2="1204.2" y2="892.1" stroke="#000" stroke-width="1.6"/>
<circle cx="1214.8" cy="890.6" r="9.3" fill="none" stroke="#000" stroke-width="1.35"/>
<text x="1214.8" y="896.1848" font-size="15.6" text-anchor="middle">4</text>
<line x1="1217.1" y1="906.6999999999999" x2="1217.1" y2="921.6999999999999" stroke="#000" stroke-width="1.5"/>
<polygon points="1217.10,924.80 1214.60,921.20 1219.60,921.20" fill="#000"/>
<path d="M1213.91,915.96 A13.2,4.7 0 1 1 1223.30,915.55" fill="none" stroke="#000" stroke-width="1.5"/>
<polygon points="1221.30,916.05 1224.09,913.33 1225.07,917.01" fill="#000"/>
<path d="M1107.4,946 C1104.2,946 1103.8,943.4 1104.3,940.6 C1106,930 1120,921.6 1143.2,918.6 H1186.8 C1210,921.6 1224,930 1225.7,940.6 C1226.2,943.4 1225.8,946 1222.6,946" fill="none" stroke="#000" stroke-width="2.2"/>
<line x1="1106.4" y1="946.1" x2="1223.6" y2="946.1" stroke="#000" stroke-width="1.8"/>
<path d="M1127.6,920.8 Q1145,919.6 1165,919.6 Q1185,919.6 1202.4,920.8" fill="none" stroke="#000" stroke-width="1.1"/>
<path d="M1129.5,922.2 Q1129.8999999999999,926.2 1133.1,926.2 Q1136.3,926.2 1136.6999999999998,922.2 Z" fill="#ddd" stroke="#000" stroke-width="1.1"/>
<line x1="1131.1" y1="923.6" x2="1135.1" y2="923.6" stroke="#555" stroke-width="0.6"/>
<path d="M1140.0,922.2 Q1140.3999999999999,926.2 1143.6,926.2 Q1146.8,926.2 1147.1999999999998,922.2 Z" fill="#ddd" stroke="#000" stroke-width="1.1"/>
<line x1="1141.6" y1="923.6" x2="1145.6" y2="923.6" stroke="#555" stroke-width="0.6"/>
<path d="M1150.5,922.2 Q1150.8999999999999,926.2 1154.1,926.2 Q1157.3,926.2 1157.6999999999998,922.2 Z" fill="#ddd" stroke="#000" stroke-width="1.1"/>
<line x1="1152.1" y1="923.6" x2="1156.1" y2="923.6" stroke="#555" stroke-width="0.6"/>
<path d="M1171.9,922.2 Q1172.3,926.2 1175.5,926.2 Q1178.7,926.2 1179.1,922.2 Z" fill="#ddd" stroke="#000" stroke-width="1.1"/>
<line x1="1173.5" y1="923.6" x2="1177.5" y2="923.6" stroke="#555" stroke-width="0.6"/>
<path d="M1182.0,922.2 Q1182.3999999999999,926.2 1185.6,926.2 Q1188.8,926.2 1189.1999999999998,922.2 Z" fill="#ddd" stroke="#000" stroke-width="1.1"/>
<line x1="1183.6" y1="923.6" x2="1187.6" y2="923.6" stroke="#555" stroke-width="0.6"/>
<path d="M1192.5,922.2 Q1192.8999999999999,926.2 1196.1,926.2 Q1199.3,926.2 1199.6999999999998,922.2 Z" fill="#ddd" stroke="#000" stroke-width="1.1"/>
<line x1="1194.1" y1="923.6" x2="1198.1" y2="923.6" stroke="#555" stroke-width="0.6"/>
<rect x="1161.6" y="916.6" width="6.6" height="9.6" fill="#fff" stroke="#000" stroke-width="1.1"/>
<line x1="1161.6" y1="919.4" x2="1168.2" y2="919.4" stroke="#000" stroke-width="0.8"/>
<line x1="1161.6" y1="921.6" x2="1168.2" y2="921.6" stroke="#000" stroke-width="0.8"/>
<line x1="1161.6" y1="923.8" x2="1168.2" y2="923.8" stroke="#000" stroke-width="0.8"/>
<line x1="1158" y1="927.5" x2="1171.6" y2="927.5" stroke="#000" stroke-width="2"/>
<rect x="1160" y="930.2" width="10" height="4" fill="#111"/>
<rect x="1163.6" y="931.6" width="2.6" height="1.4" fill="#999"/>
<line x1="1161.4" y1="959.6999999999999" x2="1161.4" y2="941.1" stroke="#000" stroke-width="1.6"/>
<polygon points="1158.9,943.5 1161.4,940.4 1163.9,943.5 1161.4,942.0" fill="#000" stroke="#000" stroke-width="0.7200000000000001" stroke-linejoin="round"/>
<path d="M1157.37,950.05 A14.6,4.9 0 1 0 1166.60,950.29" fill="none" stroke="#000" stroke-width="1.6"/>
<polygon points="1164.40,949.69 1169.06,948.55 1167.87,953.00" fill="#000"/>
<circle cx="1193.5" cy="956.9" r="9.3" fill="none" stroke="#000" stroke-width="1.35"/>
<text x="1193.5" y="962.4848" font-size="15.6" text-anchor="middle">5</text>
<line x1="1108" y1="969.8" x2="1222" y2="969.8" stroke="#000" stroke-width="2.1"/>
<rect x="1156.6" y="983" width="3.6" height="12.6" fill="#1a1a1a"/>
<path d="M1158.4,972.6 L1161.4,983.4 H1155.4 Z" fill="#fff" stroke="#000" stroke-width="1.5" stroke-linejoin="miter"/>
<circle cx="1177.6" cy="985.9" r="9.3" fill="none" stroke="#000" stroke-width="1.35"/>
<text x="1177.6" y="991.4848" font-size="15.6" text-anchor="middle">6</text>
<path d="M1409.7,743.3 L1362.5,661.3 L1505.3,578.3" fill="none" stroke="#000" stroke-width="1.4" stroke-linejoin="miter"/>
<text transform="translate(1406.4,629.4) rotate(-30)" font-size="19.2" textLength="65.6" lengthAdjust="spacingAndGlyphs">115mm</text>
<polygon points="1409.6,742.6 1553.3,660.2 1570.8,669.8 1428.8,753.6" fill="#fff" stroke="#111" stroke-width="0.8"/>
<line x1="1430.2" y1="754.4" x2="1570.8" y2="671.2" stroke="#111" stroke-width="0.6"/>
<line x1="1430.4" y1="755.6" x2="1570.8" y2="672.6" stroke="#111" stroke-width="0.6"/>
<polygon points="1409.6,742.6 1409.6,764.4 1428.8,775 1428.8,753.6" fill="#fff" stroke="#111" stroke-width="0.8"/>
<line x1="1429.5" y1="753.6" x2="1429.5" y2="775.2" stroke="#111" stroke-width="2.4"/>
<line x1="1429.5" y1="755" x2="1429.5" y2="774" stroke="#999" stroke-width="0.5"/>
<circle cx="1419.4" cy="761" r="3.8" stroke="#111" stroke-width="0.8" fill="none"/>
<path d="M1421,757.6 Q1422.6,760.4 1421,762.6" stroke="#111" stroke-width="0.8" fill="none"/>
<polygon points="1570.8,669.8 1570.8,691 1555.4,683.4 1555.4,679.2" fill="#fff" stroke="#111" stroke-width="0.8"/>
<line x1="1553.3" y1="660.2" x2="1570.8" y2="669.8" stroke="#111" stroke-width="0.8" fill="none"/>
<ellipse cx="1475" cy="718" rx="5.6" ry="3.2" transform="rotate(-8 1475 718)" stroke="#111" stroke-width="0.8" fill="none"/>
<path d="M1470.4,719.6 Q1475,723 1479.8,719.4" stroke="#111" stroke-width="0.8" fill="none"/>
<path d="M1485.4,709.6 C1488,703 1498,699 1503.2,700.4 C1501,706.6 1491,711.2 1485.4,709.6 Z" stroke="#111" stroke-width="0.8" fill="none"/>
<path d="M1486.6,709.4 C1491,708 1499,704 1502.4,701.2" stroke="#111" stroke-width="0.8" fill="none"/>
<line x1="1453.5" y1="697" x2="1453.5" y2="747" stroke="#000" stroke-width="1.3"/>
<line x1="1532.5" y1="651" x2="1532.5" y2="704" stroke="#000" stroke-width="1.3"/>
<line x1="1532.5" y1="739" x2="1532.5" y2="822.4" stroke="#000" stroke-width="1.3"/>
<ellipse cx="1451.6" cy="730.4" rx="5.2" ry="2.2" transform="rotate(24 1451.6 730.4)" fill="#fff" stroke="#000" stroke-width="1.7"/>
<ellipse cx="1533.2" cy="682" rx="5.2" ry="2.2" transform="rotate(24 1533.2 682)" fill="#fff" stroke="#000" stroke-width="1.7"/>
<line x1="1453.5" y1="697" x2="1453.5" y2="747" stroke="#000" stroke-width="1.3"/>
<line x1="1532.5" y1="651" x2="1532.5" y2="704" stroke="#000" stroke-width="1.3"/>
<polyline points="1452.60,635.60 1452.15,635.62 1451.70,635.69 1451.25,635.79 1450.82,635.94 1450.40,636.12 1450.00,636.35 1449.62,636.61 1449.26,636.91 1448.92,637.24 1448.62,637.60 1448.34,637.99 1448.10,638.40 1447.89,638.83 1447.71,639.28 1447.58,639.75 1447.48,640.23 1447.42,640.71 1447.40,641.20 1447.40,641.20 1447.53,641.50 1447.88,641.80 1448.40,642.10 1449.00,642.40 1449.57,642.70 1450.02,643.00 1450.27,643.30 1450.27,643.60 1450.02,643.90 1449.58,644.20 1449.00,644.50 1448.40,644.80 1447.88,645.10 1447.53,645.40 1447.40,645.70 1447.53,646.00 1447.88,646.30 1448.40,646.60 1449.00,646.90 1449.57,647.20 1450.02,647.50 1450.27,647.80 1450.27,648.10 1450.02,648.40 1449.58,648.70 1449.00,649.00 1448.40,649.30 1447.88,649.60 1447.53,649.90 1447.40,650.20 1447.53,650.50 1447.88,650.80 1448.40,651.10 1449.00,651.40 1449.57,651.70 1450.02,652.00 1450.27,652.30 1450.27,652.60 1450.02,652.90 1449.58,653.20 1449.00,653.50 1448.40,653.80 1447.88,654.10 1447.53,654.40 1447.40,654.70 1447.53,655.00 1447.88,655.30 1448.40,655.60 1449.00,655.90 1449.57,656.20 1450.02,656.50 1450.27,656.80 1450.27,657.10 1450.02,657.40 1449.58,657.70 1449.00,658.00 1448.40,658.30 1447.88,658.60 1447.53,658.90 1447.40,659.20 1450.10,659.80 1443.30,665.80 1443.90,667.00 1446.30,666.80 1449.70,663.80 1450.30,664.60 1449.90,666.60 1447.20,666.60 1447.20,693.40" fill="none" stroke="#000" stroke-width="1.25" stroke-linejoin="round" stroke-linecap="round"/>
<polyline points="1454.40,635.60 1454.85,635.62 1455.30,635.69 1455.75,635.79 1456.18,635.94 1456.60,636.12 1457.00,636.35 1457.38,636.61 1457.74,636.91 1458.08,637.24 1458.38,637.60 1458.66,637.99 1458.90,638.40 1459.11,638.83 1459.29,639.28 1459.42,639.75 1459.52,640.23 1459.58,640.71 1459.60,641.20 1459.60,641.20 1459.47,641.50 1459.12,641.80 1458.60,642.10 1458.00,642.40 1457.43,642.70 1456.98,643.00 1456.73,643.30 1456.73,643.60 1456.98,643.90 1457.42,644.20 1458.00,644.50 1458.60,644.80 1459.12,645.10 1459.47,645.40 1459.60,645.70 1459.47,646.00 1459.12,646.30 1458.60,646.60 1458.00,646.90 1457.43,647.20 1456.98,647.50 1456.73,647.80 1456.73,648.10 1456.98,648.40 1457.42,648.70 1458.00,649.00 1458.60,649.30 1459.12,649.60 1459.47,649.90 1459.60,650.20 1459.47,650.50 1459.12,650.80 1458.60,651.10 1458.00,651.40 1457.43,651.70 1456.98,652.00 1456.73,652.30 1456.73,652.60 1456.98,652.90 1457.42,653.20 1458.00,653.50 1458.60,653.80 1459.12,654.10 1459.47,654.40 1459.60,654.70 1459.47,655.00 1459.12,655.30 1458.60,655.60 1458.00,655.90 1457.43,656.20 1456.98,656.50 1456.73,656.80 1456.73,657.10 1456.98,657.40 1457.42,657.70 1458.00,658.00 1458.60,658.30 1459.12,658.60 1459.47,658.90 1459.60,659.20 1456.90,659.80 1463.70,665.80 1463.10,667.00 1460.70,666.80 1457.30,663.80 1456.70,664.60 1457.10,666.60 1459.80,666.60 1459.80,693.40" fill="none" stroke="#000" stroke-width="1.25" stroke-linejoin="round" stroke-linecap="round"/>
<line x1="1453.5" y1="636.4" x2="1453.5" y2="670.0" stroke="#000" stroke-width="3.2" stroke-linecap="round"/>
<ellipse cx="1453.5" cy="694.6" rx="8.4" ry="3" fill="#000"/>
<ellipse cx="1453.5" cy="693.1" rx="5.7" ry="1.9" fill="#fff"/>
<rect x="1447.85" y="689.6" width="11.3" height="3.6" fill="#fff"/>
<line x1="1453.5" y1="682.0" x2="1453.5" y2="697.6" stroke="#000" stroke-width="1.4"/>
<polyline points="1531.60,590.40 1531.15,590.42 1530.70,590.49 1530.25,590.59 1529.82,590.74 1529.40,590.92 1529.00,591.15 1528.62,591.41 1528.26,591.71 1527.92,592.04 1527.62,592.40 1527.34,592.79 1527.10,593.20 1526.89,593.63 1526.71,594.08 1526.58,594.55 1526.48,595.03 1526.42,595.51 1526.40,596.00 1526.40,596.00 1526.53,596.30 1526.88,596.60 1527.40,596.90 1528.00,597.20 1528.57,597.50 1529.02,597.80 1529.27,598.10 1529.27,598.40 1529.02,598.70 1528.58,599.00 1528.00,599.30 1527.40,599.60 1526.88,599.90 1526.53,600.20 1526.40,600.50 1526.53,600.80 1526.88,601.10 1527.40,601.40 1528.00,601.70 1528.57,602.00 1529.02,602.30 1529.27,602.60 1529.27,602.90 1529.02,603.20 1528.58,603.50 1528.00,603.80 1527.40,604.10 1526.88,604.40 1526.53,604.70 1526.40,605.00 1526.53,605.30 1526.88,605.60 1527.40,605.90 1528.00,606.20 1528.57,606.50 1529.02,606.80 1529.27,607.10 1529.27,607.40 1529.02,607.70 1528.58,608.00 1528.00,608.30 1527.40,608.60 1526.88,608.90 1526.53,609.20 1526.40,609.50 1526.53,609.80 1526.88,610.10 1527.40,610.40 1528.00,610.70 1528.57,611.00 1529.02,611.30 1529.27,611.60 1529.27,611.90 1529.02,612.20 1528.58,612.50 1528.00,612.80 1527.40,613.10 1526.88,613.40 1526.53,613.70 1526.40,614.00 1529.10,614.60 1522.30,620.60 1522.90,621.80 1525.30,621.60 1528.70,618.60 1529.30,619.40 1528.90,621.40 1526.20,621.40 1526.20,647.80" fill="none" stroke="#000" stroke-width="1.25" stroke-linejoin="round" stroke-linecap="round"/>
<polyline points="1533.40,590.40 1533.85,590.42 1534.30,590.49 1534.75,590.59 1535.18,590.74 1535.60,590.92 1536.00,591.15 1536.38,591.41 1536.74,591.71 1537.08,592.04 1537.38,592.40 1537.66,592.79 1537.90,593.20 1538.11,593.63 1538.29,594.08 1538.42,594.55 1538.52,595.03 1538.58,595.51 1538.60,596.00 1538.60,596.00 1538.47,596.30 1538.12,596.60 1537.60,596.90 1537.00,597.20 1536.43,597.50 1535.98,597.80 1535.73,598.10 1535.73,598.40 1535.98,598.70 1536.42,599.00 1537.00,599.30 1537.60,599.60 1538.12,599.90 1538.47,600.20 1538.60,600.50 1538.47,600.80 1538.12,601.10 1537.60,601.40 1537.00,601.70 1536.43,602.00 1535.98,602.30 1535.73,602.60 1535.73,602.90 1535.98,603.20 1536.42,603.50 1537.00,603.80 1537.60,604.10 1538.12,604.40 1538.47,604.70 1538.60,605.00 1538.47,605.30 1538.12,605.60 1537.60,605.90 1537.00,606.20 1536.43,606.50 1535.98,606.80 1535.73,607.10 1535.73,607.40 1535.98,607.70 1536.42,608.00 1537.00,608.30 1537.60,608.60 1538.12,608.90 1538.47,609.20 1538.60,609.50 1538.47,609.80 1538.12,610.10 1537.60,610.40 1537.00,610.70 1536.43,611.00 1535.98,611.30 1535.73,611.60 1535.73,611.90 1535.98,612.20 1536.42,612.50 1537.00,612.80 1537.60,613.10 1538.12,613.40 1538.47,613.70 1538.60,614.00 1535.90,614.60 1542.70,620.60 1542.10,621.80 1539.70,621.60 1536.30,618.60 1535.70,619.40 1536.10,621.40 1538.80,621.40 1538.80,647.80" fill="none" stroke="#000" stroke-width="1.25" stroke-linejoin="round" stroke-linecap="round"/>
<line x1="1532.5" y1="591.1999999999999" x2="1532.5" y2="624.8" stroke="#000" stroke-width="3.2" stroke-linecap="round"/>
<ellipse cx="1532.5" cy="649.0" rx="8.4" ry="3" fill="#000"/>
<ellipse cx="1532.5" cy="647.5" rx="5.7" ry="1.9" fill="#fff"/>
<rect x="1526.85" y="644" width="11.3" height="3.6" fill="#fff"/>
<line x1="1532.5" y1="636.4" x2="1532.5" y2="652" stroke="#000" stroke-width="1.4"/>
<path d="M1504.6,577.9 L1505.3,578.3 L1553.3,660.8" fill="none" stroke="#000" stroke-width="1.4" stroke-linejoin="miter"/>
<path d="M1451.15,747.2 Q1451.2,745.6 1452.5,745.6 H1454.5 Q1455.8,745.6 1455.85,747.2 L1457.0,779.6 H1450.0 Z" fill="#000"/>
<ellipse cx="1453.5" cy="780.6" rx="5.5" ry="3.2" fill="#fff" stroke="#000" stroke-width="1.9"/>
<path d="M1450.0,777.2 H1457.0 L1457.2,780.4 Q1453.5,783.2 1449.8,780.4 Z" fill="#000"/>
<path d="M1530.15,704.8000000000001 Q1530.2,703.2 1531.5,703.2 H1533.5 Q1534.8,703.2 1534.85,704.8000000000001 L1536.0,735.6 H1529.0 Z" fill="#000"/>
<ellipse cx="1532.5" cy="736.6" rx="5.5" ry="3.2" fill="#fff" stroke="#000" stroke-width="1.9"/>
<path d="M1529.0,733.2 H1536.0 L1536.2,736.4 Q1532.5,739.2 1528.8,736.4 Z" fill="#000"/>
<line x1="1403.88" y1="769.41" x2="1419.48" y2="761.46" stroke="#000" stroke-width="1.2"/>
<polygon points="1380.79,784.65 1405.29,772.17 1402.48,766.65 1377.97,779.13" fill="#ddd" stroke="#777" stroke-width="0.5"/>
<line x1="1381.32" y1="784.38" x2="1379.31" y2="778.45" stroke="#555" stroke-width="0.6"/>
<line x1="1383.14" y1="783.46" x2="1381.13" y2="777.52" stroke="#555" stroke-width="0.6"/>
<line x1="1384.96" y1="782.53" x2="1382.94" y2="776.60" stroke="#555" stroke-width="0.6"/>
<line x1="1386.77" y1="781.61" x2="1384.76" y2="775.67" stroke="#555" stroke-width="0.6"/>
<line x1="1388.59" y1="780.68" x2="1386.58" y2="774.75" stroke="#555" stroke-width="0.6"/>
<line x1="1390.41" y1="779.75" x2="1388.39" y2="773.82" stroke="#555" stroke-width="0.6"/>
<line x1="1392.22" y1="778.83" x2="1390.21" y2="772.90" stroke="#555" stroke-width="0.6"/>
<line x1="1394.04" y1="777.90" x2="1392.03" y2="771.97" stroke="#555" stroke-width="0.6"/>
<line x1="1395.85" y1="776.98" x2="1393.84" y2="771.05" stroke="#555" stroke-width="0.6"/>
<line x1="1397.67" y1="776.05" x2="1395.66" y2="770.12" stroke="#555" stroke-width="0.6"/>
<line x1="1399.49" y1="775.13" x2="1397.47" y2="769.19" stroke="#555" stroke-width="0.6"/>
<line x1="1401.30" y1="774.20" x2="1399.29" y2="768.27" stroke="#555" stroke-width="0.6"/>
<line x1="1403.12" y1="773.28" x2="1401.11" y2="767.34" stroke="#555" stroke-width="0.6"/>
<line x1="1404.94" y1="772.35" x2="1402.92" y2="766.42" stroke="#555" stroke-width="0.6"/>
<line x1="1381.50" y1="790.46" x2="1373.70" y2="775.14" stroke="#333" stroke-width="4.3" stroke-linecap="butt"/>
<line x1="1577.60" y1="664.34" x2="1570.61" y2="669.68" stroke="#000" stroke-width="1.2"/>
<polygon points="1597.33,645.35 1575.72,661.87 1579.49,666.80 1601.09,650.28" fill="#ddd" stroke="#777" stroke-width="0.5"/>
<line x1="1596.85" y1="645.72" x2="1599.90" y2="651.19" stroke="#555" stroke-width="0.6"/>
<line x1="1595.25" y1="646.94" x2="1598.30" y2="652.41" stroke="#555" stroke-width="0.6"/>
<line x1="1593.65" y1="648.16" x2="1596.70" y2="653.64" stroke="#555" stroke-width="0.6"/>
<line x1="1592.05" y1="649.39" x2="1595.10" y2="654.86" stroke="#555" stroke-width="0.6"/>
<line x1="1590.45" y1="650.61" x2="1593.50" y2="656.08" stroke="#555" stroke-width="0.6"/>
<line x1="1588.85" y1="651.84" x2="1591.90" y2="657.31" stroke="#555" stroke-width="0.6"/>
<line x1="1587.25" y1="653.06" x2="1590.30" y2="658.53" stroke="#555" stroke-width="0.6"/>
<line x1="1585.64" y1="654.29" x2="1588.70" y2="659.76" stroke="#555" stroke-width="0.6"/>
<line x1="1584.04" y1="655.51" x2="1587.09" y2="660.98" stroke="#555" stroke-width="0.6"/>
<line x1="1582.44" y1="656.73" x2="1585.49" y2="662.21" stroke="#555" stroke-width="0.6"/>
<line x1="1580.84" y1="657.96" x2="1583.89" y2="663.43" stroke="#555" stroke-width="0.6"/>
<line x1="1579.24" y1="659.18" x2="1582.29" y2="664.65" stroke="#555" stroke-width="0.6"/>
<line x1="1577.64" y1="660.41" x2="1580.69" y2="665.88" stroke="#555" stroke-width="0.6"/>
<line x1="1576.04" y1="661.63" x2="1579.09" y2="667.10" stroke="#555" stroke-width="0.6"/>
<line x1="1595.58" y1="639.77" x2="1606.02" y2="653.43" stroke="#333" stroke-width="4.3" stroke-linecap="butt"/>
<line x1="1532.5" y1="864.0" x2="1532.5" y2="832" stroke="#000" stroke-width="1.5"/>
<polygon points="1529.5,835 1532.5,831.3 1535.5,835 1532.5,833.5" fill="#000" stroke="#000" stroke-width="0.675" stroke-linejoin="round"/>
<path d="M1525.95,849.42 A25,7.4 0 1 0 1541.77,849.79" fill="none" stroke="#000" stroke-width="1.5"/>
<polygon points="1539.57,849.19 1544.22,848.05 1543.03,852.50" fill="#000"/>
<circle cx="1576.1" cy="857.1" r="8.4" fill="none" stroke="#000" stroke-width="1.25"/>
<text x="1575.8" y="862.2552000000001" font-size="14.4" text-anchor="middle">1</text>
<text x="1443.5" y="902.1" font-size="20.4" text-anchor="start" textLength="75.4" lengthAdjust="spacingAndGlyphs" >120mm</text>
<path d="M1384,934 V905.9 H1575.4 V934" fill="none" stroke="#aaa" stroke-width="1.2"/>
<path d="M1384,934.4 H1575.4 V962.2 Q1575.4,966 1571.6,966 H1387.8 Q1384,966 1384,962.2 Z" fill="none" stroke="#000" stroke-width="1.6"/>
<circle cx="1479.8" cy="945" r="4.9" fill="none" stroke="#000" stroke-width="1.4"/>
<line x1="1364" y1="944.2" x2="1394" y2="944.2" stroke="#000" stroke-width="1.4"/>
<rect x="1342.9" y="940.4" width="22.199999999999818" height="7.0" fill="#555"/>
<rect x="1343.20" y="940.0" width="2.47" height="7.8" rx="0.9" ry="1.6" fill="#151515"/>
<rect x="1346.37" y="940.0" width="2.47" height="7.8" rx="0.9" ry="1.6" fill="#151515"/>
<rect x="1349.54" y="940.0" width="2.47" height="7.8" rx="0.9" ry="1.6" fill="#151515"/>
<rect x="1352.71" y="940.0" width="2.47" height="7.8" rx="0.9" ry="1.6" fill="#151515"/>
<rect x="1355.89" y="940.0" width="2.47" height="7.8" rx="0.9" ry="1.6" fill="#151515"/>
<rect x="1359.06" y="940.0" width="2.47" height="7.8" rx="0.9" ry="1.6" fill="#151515"/>
<rect x="1362.23" y="940.0" width="2.47" height="7.8" rx="0.9" ry="1.6" fill="#151515"/>
<path d="M1343,938.6 Q1334,944 1343,949.4" fill="none" stroke="#aaa" stroke-width="0.7"/>
<line x1="1565.6" y1="944.2" x2="1594.6" y2="944.2" stroke="#000" stroke-width="1.4"/>
<rect x="1593.9" y="940.4" width="22.199999999999818" height="7.0" fill="#555"/>
<rect x="1594.20" y="940.0" width="2.47" height="7.8" rx="0.9" ry="1.6" fill="#151515"/>
<rect x="1597.37" y="940.0" width="2.47" height="7.8" rx="0.9" ry="1.6" fill="#151515"/>
<rect x="1600.54" y="940.0" width="2.47" height="7.8" rx="0.9" ry="1.6" fill="#151515"/>
<rect x="1603.71" y="940.0" width="2.47" height="7.8" rx="0.9" ry="1.6" fill="#151515"/>
<rect x="1606.89" y="940.0" width="2.47" height="7.8" rx="0.9" ry="1.6" fill="#151515"/>
<rect x="1610.06" y="940.0" width="2.47" height="7.8" rx="0.9" ry="1.6" fill="#151515"/>
<rect x="1613.23" y="940.0" width="2.47" height="7.8" rx="0.9" ry="1.6" fill="#151515"/>
<path d="M1616,938.6 Q1625,944 1616,949.4" fill="none" stroke="#aaa" stroke-width="0.7"/>
<line x1="1627" y1="944.6" x2="1667.4" y2="944.6" stroke="#000" stroke-width="1.4"/>
<polyline points="1628.6,941.4 1624.4,944.6 1628.6,947.8" fill="none" stroke="#000" stroke-width="1.4"/>
<path d="M1638.73,951.27 A6.8,20.3 0 1 0 1638.81,938.06" fill="none" stroke="#000" stroke-width="1.4"/>
<path d="M1638.81,951.94 A6.8,20.3 0 1 0 1638.81,938.06" fill="none" stroke="#000" stroke-width="1.4"/>
<polygon points="1639.60,938.60 1638.32,934.92 1642.06,935.58" fill="#000"/>
<circle cx="1647.6" cy="981.9" r="8.4" fill="none" stroke="#000" stroke-width="1.25"/>
<text x="1647.6" y="987.0552" font-size="14.4" text-anchor="middle">8</text>
</svg>
</body></html>
